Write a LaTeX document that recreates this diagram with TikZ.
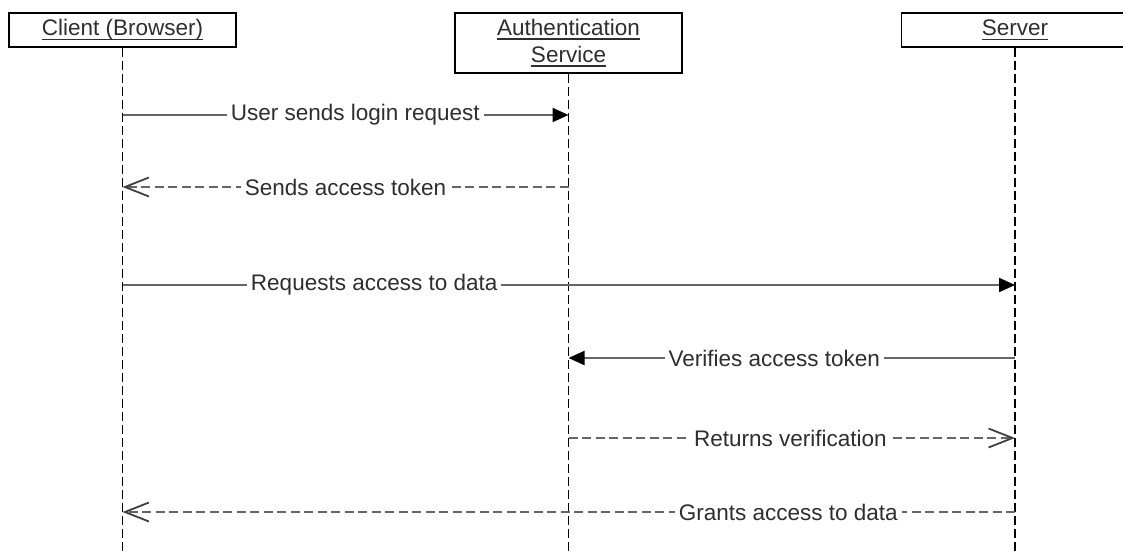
\documentclass[tikz,border=0pt]{standalone}
\usepackage{fontspec}
\setmainfont{Liberation Sans}
\usetikzlibrary{arrows.meta}
% underlined caption, rule set just under the baseline
\newcommand{\uln}[1]{\leavevmode\setbox0\hbox{#1}\rlap{\rule[-4.2pt]{\wd0}{1.4pt}}\box0}

\begin{document}
\begin{tikzpicture}[x=1pt,y=-1pt,
  every node/.style={font=\fontsize{22.5}{27}\selectfont, text=black!82},
  actor/.style={draw=black, line width=1.8pt, fill=white, minimum width=227pt,
                inner sep=0pt, align=center},
  lifeline/.style={draw=black, line width=1.8pt, dash pattern=on 9pt off 4pt},
  msg/.style={draw=black!60, line width=2.2pt},
  reply/.style={msg, dash pattern=on 9pt off 4.5pt},
  synchead/.style={-{Triangle[length=16pt,width=14pt,fill=black,color=black]}},
  openhead/.style={-{Straight Barb[length=24pt,width=19pt,color=black!75,line width=1.8pt]}},
  lbl/.style={fill=white, inner xsep=4pt, inner ysep=1pt}
]
\useasboundingbox (0,0) rectangle (1123,554);
\clip (0,0) rectangle (1123,554);

% participants
\node[actor, minimum height=34pt] (cl) at (122.5,30) {\uln{Client (Browser)}};
\node[actor, minimum height=60pt] (au) at (568.5,43) {\uln{Authentication}\\[0pt]\uln{Service}};
\node[actor, minimum height=34pt] (sv) at (1015,30) {\uln{Server}};

% lifeline ends
\coordinate (clEnd) at (cl.south |- 0,554);
\coordinate (auEnd) at (au.south |- 0,554);
\coordinate (svEnd) at (sv.south |- 0,554);
\draw[lifeline] (cl.south) -- (clEnd);
\draw[lifeline] (au.south) -- (auEnd);
\draw[lifeline] (sv.south) -- (svEnd);

% message anchor points on the lifelines
\coordinate (c1) at (cl.south |- 0,115);
\coordinate (a1) at (au.south |- 0,115);
\coordinate (c2) at (cl.south |- 0,187);
\coordinate (a2) at (au.south |- 0,187);
\coordinate (c3) at (cl.south |- 0,285);
\coordinate (s3) at (sv.south |- 0,285);
\coordinate (a4) at (au.south |- 0,358);
\coordinate (s4) at (sv.south |- 0,358);
\coordinate (a5) at (au.south |- 0,438);
\coordinate (s5) at (sv.south |- 0,438);
\coordinate (c6) at (cl.south |- 0,512);
\coordinate (s6) at (sv.south |- 0,512);

% messages
\draw[msg, synchead] (c1) -- node[lbl, pos=0.522] {User sends login request} (a1);
\draw[reply, openhead] (a2) -- node[lbl, pos=0.5] {Sends access token} (c2);
\draw[msg, synchead] (c3) -- node[lbl, pos=0.282] {Requests access to data} (s3);
\draw[msg, synchead] (s4) -- node[lbl, pos=0.539] {Verifies access token} (a4);
\draw[reply, openhead] (a5) -- node[lbl, pos=0.497] {Returns verification} (s5);
\draw[reply, openhead] (s6) -- node[lbl, pos=0.254] {Grants access to data} (c6);
\end{tikzpicture}
\end{document}
